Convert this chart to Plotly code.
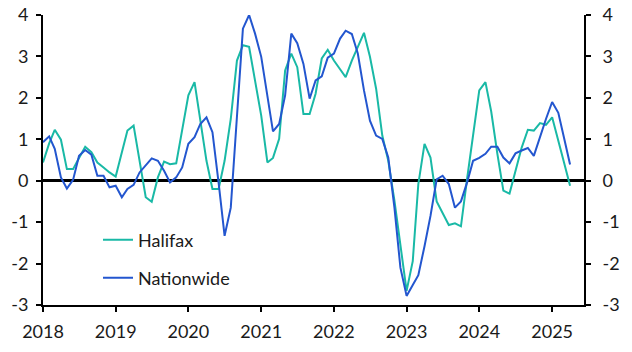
import pandas as pd
import plotly.graph_objects as go

dates = pd.date_range("2018-01-01", periods=88, freq="MS")

halifax = [0.44, 0.9, 1.23, 0.99, 0.28, 0.28, 0.55, 0.82, 0.69, 0.44, 0.32, 0.2,
           0.1, 0.65, 1.21, 1.33, 0.48, -0.4, -0.51, 0.08, 0.46, 0.4, 0.42, 1.21,
           2.06, 2.38, 1.49, 0.48, -0.2, -0.2, 0.48, 1.49, 2.9, 3.27, 3.23, 2.42,
           1.57, 0.44, 0.55, 1.01, 2.66, 3.07, 2.74, 1.61, 1.61, 2.1, 2.95, 3.16,
           2.9, 2.69, 2.5, 2.9, 3.22, 3.57, 2.99, 2.22, 1.09, 0.48, -0.48, -1.61,
           -2.66, -1.94, -0.08, 0.89, 0.56, -0.5, -0.8, -1.07, -1.03, -1.1, 0.05, 1.1,
           2.18, 2.38, 1.67, 0.65, -0.24, -0.31, 0.25, 0.8, 1.23, 1.21, 1.39, 1.35,
           1.53, 0.93, 0.45, -0.12]

nationwide = [0.93, 1.07, 0.77, 0.08, -0.19, 0.02, 0.6, 0.74, 0.63, 0.12, 0.12, -0.16,
              -0.12, -0.4, -0.2, -0.1, 0.2, 0.36, 0.54, 0.48, 0.24, -0.04, 0.08, 0.32,
              0.89, 1.05, 1.37, 1.53, 1.17, -0.05, -1.33, -0.65, 1.45, 3.67, 4.0, 3.55,
              2.99, 2.1, 1.19, 1.37, 2.06, 3.55, 3.32, 2.82, 1.98, 2.42, 2.52, 2.97,
              3.07, 3.43, 3.62, 3.54, 3.07, 2.18, 1.45, 1.09, 1.01, 0.56, -0.65, -2.1,
              -2.78, -2.52, -2.28, -1.58, -0.85, 0.03, 0.12, -0.08, -0.65, -0.5, -0.04, 0.48,
              0.55, 0.65, 0.82, 0.82, 0.56, 0.42, 0.66, 0.73, 0.79, 0.6, 1.08, 1.49,
              1.9, 1.64, 1.05, 0.39]

y_tickvals = [-3, -2, -1, 0, 1, 2, 3, 4]
y_ticktext = ["-3", "-2", "-1", "0", "1", "2", "3", "4"]
x_tickvals = ["2018-01-01", "2019-01-01", "2020-01-01", "2021-01-01",
              "2022-01-01", "2023-01-01", "2024-01-01", "2025-01-01"]
x_ticktext = ["2018", "2019", "2020", "2021", "2022", "2023", "2024", "2025"]

TEAL = "#19B9A6"
BLUE = "#2356CF"
FONT = dict(family="Lato, Open Sans, sans-serif", size=18, color="#1a1a1a")

fig = go.Figure()
fig.add_trace(go.Scatter(x=dates, y=halifax, mode="lines", name="Halifax",
                         line=dict(color=TEAL, width=2), legend="legend"))
fig.add_trace(go.Scatter(x=dates, y=nationwide, mode="lines", name="Nationwide",
                         line=dict(color=BLUE, width=2), legend="legend2", yaxis="y2"))

axis_common = dict(range=[-3, 4], tickvals=y_tickvals, ticktext=y_ticktext,
                   showgrid=False, showline=True, linecolor="black", linewidth=2,
                   ticks="outside", ticklen=5, tickwidth=2, tickcolor="black",
                   tickfont=FONT, fixedrange=True, automargin=False)

fig.update_layout(
    width=632, height=352,
    margin=dict(l=43, r=48, t=15, b=47, autoexpand=False),
    plot_bgcolor="white", paper_bgcolor="white",
    font=FONT,
    xaxis=dict(type="date", range=["2018-01-01", "2025-06-10"],
               tickvals=x_tickvals, ticktext=x_ticktext,
               showgrid=False, showline=True, linecolor="black", linewidth=2,
               ticks="outside", ticklen=5, tickwidth=2, tickcolor="black",
               tickfont=FONT, zeroline=False, automargin=False, ticklabelstandoff=4),
    yaxis=dict(side="left", zeroline=True, zerolinecolor="black", zerolinewidth=3,
               ticklabelstandoff=4, **axis_common),
    yaxis2=dict(side="right", overlaying="y", zeroline=False,
                ticklabelstandoff=8, **axis_common),
    legend=dict(x=(98 - 43) / 541, y=(305 - 240) / 290, xanchor="left", yanchor="middle",
                bgcolor="rgba(0,0,0,0)", font=FONT),
    legend2=dict(x=(98 - 43) / 541, y=(305 - 278) / 290, xanchor="left", yanchor="middle",
                 bgcolor="rgba(0,0,0,0)", font=FONT),
    showlegend=True,
)

fig.write_html("out.html")
